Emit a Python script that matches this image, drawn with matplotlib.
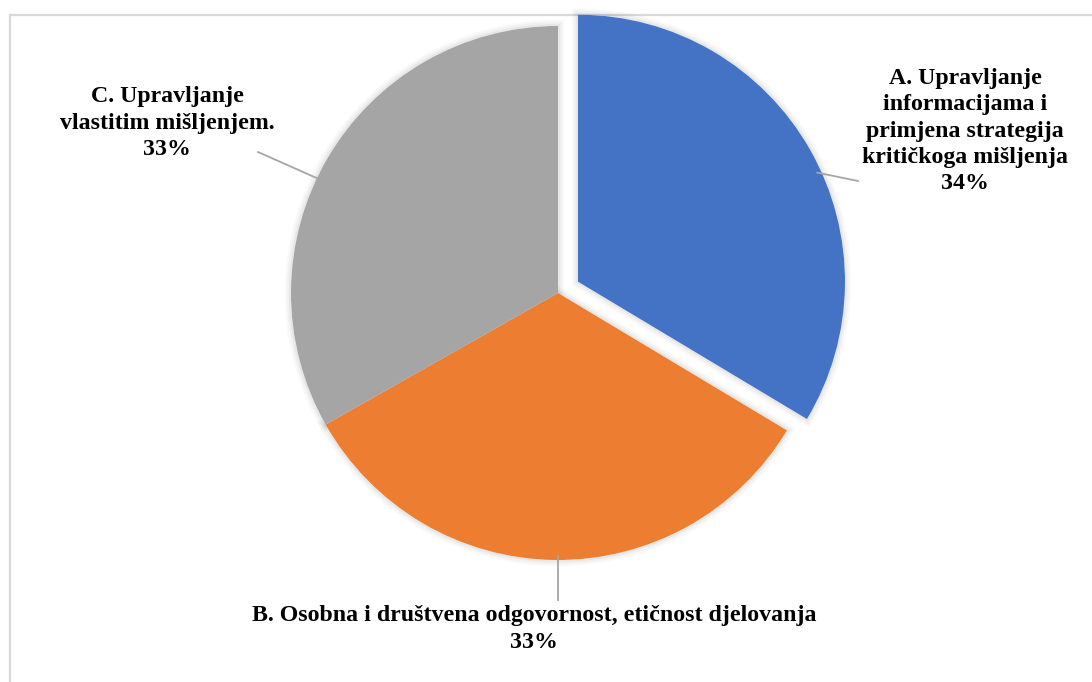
import matplotlib.pyplot as plt
import matplotlib.patheffects as pe
import numpy as np
from matplotlib.patches import Rectangle

# data
labels = ['A. Upravljanje\ninformacijama i\nprimjena strategija\nkritičkoga mišljenja',
          'B. Osobna i društvena odgovornost, etičnost djelovanja',
          'C. Upravljanje\nvlastitim mišljenjem.']
shares = [33.6, 33.2, 33.2]
colors = ['#4472C4', '#ED7D31', '#A5A5A5']

W, H = 1092, 682
center = (558, H - 293)
radius = 267
explode = [0.086 * radius, 0, 0]   # pie takes explode in data units here

plt.rcParams['font.family'] = ['Liberation Serif', 'DejaVu Serif']

fig = plt.figure(figsize=(W / 100, H / 100), dpi=100)
ax = fig.add_axes([0, 0, 1, 1])

# chart frame
ax.add_patch(Rectangle((9.5, -10), W, H - 14.5 + 10, fill=False,
                       edgecolor='#D9D9D9', linewidth=1.6, zorder=0))

# soft shadow layer underneath
glow, _ = ax.pie(shares, explode=explode, startangle=90, counterclock=False,
                 center=center, radius=radius, colors=['white'] * 3)
for w in glow:
    w.set_zorder(1)
    w.set_path_effects([pe.Stroke(linewidth=9, foreground='black', alpha=0.025),
                        pe.Stroke(linewidth=6, foreground='black', alpha=0.03),
                        pe.Stroke(linewidth=3, foreground='black', alpha=0.04),
                        pe.Normal()])

wedges, _ = ax.pie(shares, explode=explode, startangle=90, counterclock=False,
                   center=center, radius=radius, colors=colors)
for w in wedges:
    w.set_zorder(2)

ax.set_xlim(0, W)
ax.set_ylim(0, H)
ax.set_aspect('equal')
ax.axis('off')

# label layout: (text x, text y, leader start angle, leader end x, end y)
layout = [
    (965, H - 131, 24.5, 858, H - 181),
    (534, H - 629, -90, 558, H - 600),
    (167, H - 123, 154.5, 258, H - 152),
]

for i, (lab, s) in enumerate(zip(labels, shares)):
    tx, ty, ang, ex, ey = layout[i]
    w = wedges[i]
    cx, cy = w.center
    a = np.deg2rad(ang)
    sx = cx + w.r * 0.985 * np.cos(a)
    sy = cy + w.r * 0.985 * np.sin(a)
    ax.plot([sx, ex], [sy, ey], color='#A6A6A6', linewidth=1.3, zorder=3)
    ax.text(tx, ty, f'{lab}\n{round(s)}%', ha='center', va='center',
            fontsize=17.2, fontweight='bold', linespacing=1.33, zorder=4)

fig.savefig('out.png', dpi=100)
